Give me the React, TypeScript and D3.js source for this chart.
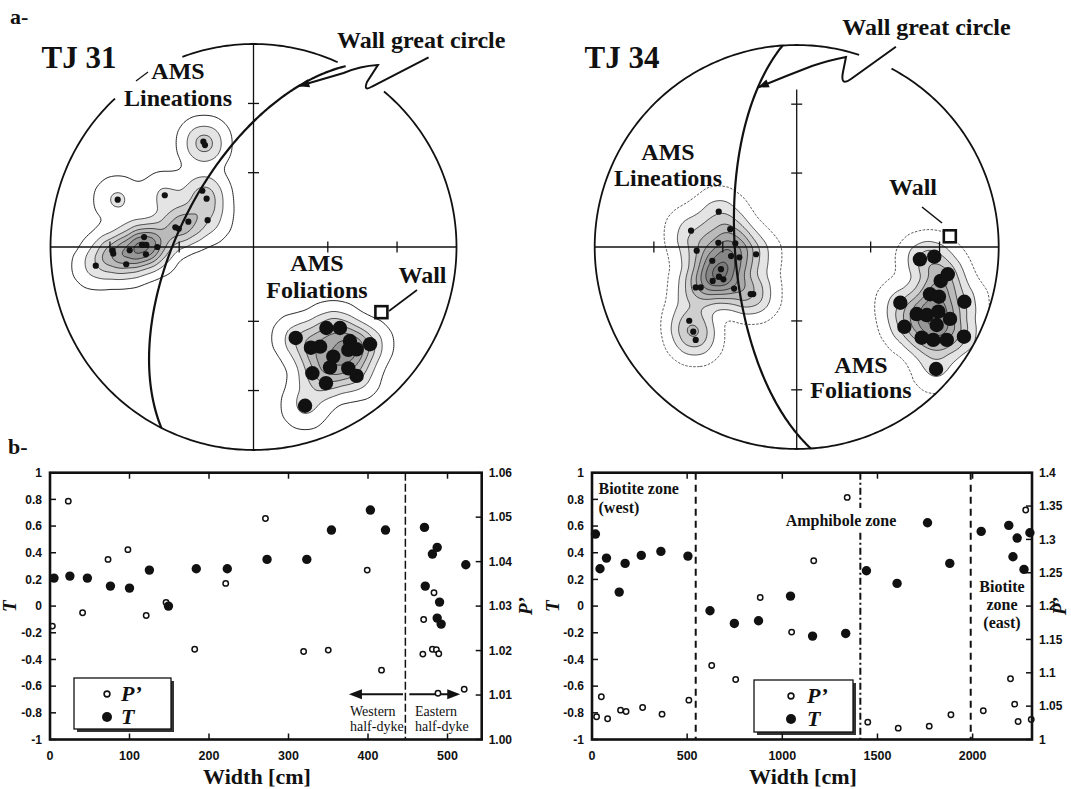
import React, { useMemo } from "react";
import * as d3 from "d3";

const SERIF = "'Liberation Serif','Times New Roman',Times,serif";
const SANS = "'Liberation Sans',Arial,Helvetica,sans-serif";

// ================= Panel b : TJ 31 profile =================
const tj31TWidth = [5, 25, 47, 76, 100, 125, 149, 184, 223, 273, 323, 354, 403, 422, 471, 481, 487, 472, 490, 487, 492, 523];
const tj31T = [0.21, 0.225, 0.21, 0.15, 0.135, 0.27, 0.0, 0.28, 0.28, 0.35, 0.35, 0.57, 0.72, 0.57, 0.59, 0.39, 0.44, 0.15, 0.03, -0.09, -0.135, 0.31];
const tj31PWidth = [3, 23, 41, 73, 98, 121, 146, 182, 221, 271, 319, 350, 399, 417, 470, 483, 469, 481, 486, 489, 488, 521];
const tj31P = [1.0255, 1.0536, 1.0285, 1.0405, 1.0427, 1.0279, 1.0308, 1.0203, 1.0351, 1.0497, 1.0198, 1.0201, 1.0381, 1.0156, 1.027, 1.033, 1.0192, 1.0203, 1.0202, 1.0193, 1.0104, 1.0113];
const tj31XTicks = [0, 100, 200, 300, 400, 500];
const tj31PTicks = [1.0, 1.01, 1.02, 1.03, 1.04, 1.05, 1.06];
const tj31PTickLabels = ["1.00", "1.01", "1.02", "1.03", "1.04", "1.05", "1.06"];
const tj31Zones = [447];

// ================= Panel b : TJ 34 profile =================
const tj34TWidth = [18, 42, 76, 143, 174, 259, 362, 504, 620, 748, 875, 1043, 1159, 1333, 1442, 1603, 1763, 1880, 2045, 2190, 2234, 2212, 2270, 2301];
const tj34T = [0.54, 0.28, 0.36, 0.105, 0.32, 0.38, 0.41, 0.375, -0.035, -0.13, -0.11, 0.075, -0.225, -0.205, 0.265, 0.17, 0.625, 0.32, 0.56, 0.605, 0.51, 0.37, 0.275, 0.55];
const tj34PWidth = [24, 49, 82, 150, 179, 266, 368, 509, 629, 755, 884, 1049, 1165, 1341, 1449, 1609, 1772, 1886, 2056, 2199, 2221, 2239, 2279, 2308];
const tj34P = [1.034, 1.064, 1.031, 1.044, 1.042, 1.048, 1.038, 1.059, 1.111, 1.09, 1.213, 1.161, 1.268, 1.363, 1.026, 1.017, 1.02, 1.037, 1.043, 1.091, 1.053, 1.027, 1.344, 1.03];
const tj34XTicks = [0, 500, 1000, 1500, 2000];
const tj34PTicks = [1, 1.05, 1.1, 1.15, 1.2, 1.25, 1.3, 1.35, 1.4];
const tj34PTickLabels = ["1", "1.05", "1.1", "1.15", "1.2", "1.25", "1.3", "1.35", "1.4"];
const tj34Zones = [545, 1410, 1990];

const tTicks = [-1, -0.8, -0.6, -0.4, -0.2, 0, 0.2, 0.4, 0.6, 0.8, 1];
const tTickLabels = ["-1", "-0.8", "-0.6", "-0.4", "-0.2", "0", "0.2", "0.4", "0.6", "0.8", "1"];

// ================= Panel a : stereonets (equal-area, normalised east / north) =================
const tj31LinE = [-0.247, -0.239, -0.669, -0.437, -0.252, -0.231, -0.226, -0.321, -0.385, -0.368, -0.539, -0.549, -0.528, -0.474, -0.61, -0.694, -0.691, -0.53, -0.627, -0.777];
const tj31LinN = [0.519, 0.502, 0.233, 0.255, 0.277, 0.238, 0.132, 0.125, 0.097, 0.09, 0.049, 0.01, 0.01, 0.0, -0.016, -0.018, -0.033, -0.036, -0.085, -0.092];
const tj31FolE = [0.208, 0.359, 0.426, 0.475, 0.574, 0.283, 0.328, 0.467, 0.508, 0.393, 0.377, 0.29, 0.467, 0.508, 0.357, 0.254];
const tj31FolN = [-0.448, -0.399, -0.399, -0.463, -0.479, -0.496, -0.491, -0.507, -0.504, -0.54, -0.593, -0.622, -0.598, -0.635, -0.671, -0.782];
const tj31Wall = { strike: 207, dip: 60 };

const tj34LinE = [-0.386, -0.523, -0.329, -0.388, -0.304, -0.495, -0.325, -0.284, -0.201, -0.418, -0.375, -0.385, -0.363, -0.416, -0.5, -0.475, -0.31, -0.228, -0.215, -0.532, -0.512, -0.5];
const tj34LinN = [0.175, 0.081, 0.088, 0.021, 0.018, -0.018, -0.045, -0.051, -0.036, -0.068, -0.11, -0.147, -0.16, -0.168, -0.2, -0.2, -0.206, -0.233, -0.233, -0.365, -0.419, -0.46];
const tj34FolE = [0.61, 0.681, 0.748, 0.713, 0.66, 0.704, 0.513, 0.83, 0.594, 0.644, 0.701, 0.759, 0.533, 0.693, 0.619, 0.676, 0.743, 0.828, 0.69];
const tj34FolN = [-0.061, -0.048, -0.135, -0.168, -0.234, -0.246, -0.276, -0.271, -0.332, -0.337, -0.32, -0.356, -0.395, -0.386, -0.449, -0.46, -0.46, -0.444, -0.604];
const tj34Wall = { strike: 176, dip: 65 };

const netTickDips = [30, 60];
const contourLevels = [0.2, 0.9, 1.7, 2.5, 3.3, 4.1, 4.9, 5.7, 6.5, 7.3, 8.1, 8.9, 9.7, 10.5, 11.3];

const RAD = Math.PI / 180;

// equal-area lower hemisphere projection of a line (trend, plunge in degrees)
function projLine(trend: number, plunge: number): [number, number] {
  const r = Math.SQRT2 * Math.sin(((90 - plunge) / 2) * RAD);
  return [r * Math.sin(trend * RAD), r * Math.cos(trend * RAD)];
}

function greatCircle(strike: number, dip: number, a0 = 0, a1 = 180): [number, number][] {
  const dd = strike + 90;
  const s = [Math.sin(strike * RAD), Math.cos(strike * RAD), 0];
  const d = [Math.sin(dd * RAD) * Math.cos(dip * RAD), Math.cos(dd * RAD) * Math.cos(dip * RAD), Math.sin(dip * RAD)];
  const out: [number, number][] = [];
  for (let a = a0; a <= a1 + 1e-9; a += 1) {
    const ca = Math.cos(a * RAD), sa = Math.sin(a * RAD);
    const v = [ca * s[0] + sa * d[0], ca * s[1] + sa * d[1], ca * s[2] + sa * d[2]];
    const plunge = Math.asin(Math.max(-1, Math.min(1, v[2]))) / RAD;
    const trend = Math.atan2(v[0], v[1]) / RAD;
    out.push(projLine(trend, plunge));
  }
  return out;
}

function buildContours(pts: [number, number][], bw: number, size: number) {
  const dens: any = d3
    .contourDensity<[number, number]>()
    .x((d) => d[0])
    .y((d) => d[1])
    .size([size, size])
    .cellSize(2)
    .bandwidth(bw);
  let peak = 1 / (2 * Math.PI * bw * bw);
  try {
    if (typeof dens.contours === "function") {
      const c = dens.contours([[size / 2, size / 2]]);
      if (c && isFinite(c.max) && c.max > 0) peak = c.max;
    }
  } catch (e) {
    /* fallback */
  }
  return dens.thresholds(contourLevels.map((m) => m * peak))(pts);
}

const grayScale = d3.scaleLinear<string>().domain([1, 3, 6, 10]).range(["#e4e4e4", "#bababa", "#868686", "#555555"]).clamp(true);

function arrowHead(tx: number, ty: number, fx: number, fy: number, len = 11, w = 4.2) {
  const ang = Math.atan2(ty - fy, tx - fx);
  const bx = tx - len * Math.cos(ang), by = ty - len * Math.sin(ang);
  const px = -Math.sin(ang) * w, py = Math.cos(ang) * w;
  return `${tx},${ty} ${bx + px},${by + py} ${bx - px},${by - py}`;
}

type NetProps = {
  id: string;
  cx: number;
  cy: number;
  R: number;
  linE: number[];
  linN: number[];
  folE: number[];
  folN: number[];
  wall: { strike: number; dip: number };
  gaps: [number, number][];
  vAxisTop: number;
  dashedOuter: boolean;
  linBw: number;
  folBw: number;
  arrowA: number;
  leader: string;
  leaderCtrl: [number, number];
  wallLeader: [number, number, number, number];
  children?: React.ReactNode;
};

function Stereonet(p: NetProps) {
  const sx = d3.scaleLinear().domain([-1, 1]).range([p.cx - p.R, p.cx + p.R]);
  const sy = d3.scaleLinear().domain([-1, 1]).range([p.cy + p.R, p.cy - p.R]);
  const ox = p.cx - p.R, oy = p.cy - p.R, size = 2 * p.R;
  const gp = d3.geoPath();

  const linPts = p.linE.map((e, i) => [sx(e), sy(p.linN[i])] as [number, number]);
  const folPts = p.folE.map((e, i) => [sx(e), sy(p.folN[i])] as [number, number]);

  const linC = useMemo(() => buildContours(linPts.map(([x, y]) => [x - ox, y - oy] as [number, number]), p.linBw, size), [p.id]);
  const folC = useMemo(() => buildContours(folPts.map(([x, y]) => [x - ox, y - oy] as [number, number]), p.folBw, size), [p.id]);

  // primitive circle with gaps
  const segs: [number, number][] = [];
  const sorted = [...p.gaps].sort((a, b) => a[0] - b[0]);
  let start = sorted.length ? sorted[sorted.length - 1][1] - 360 : 0;
  sorted.forEach((g) => {
    segs.push([start, g[0]]);
    start = g[1];
  });
  if (!sorted.length) segs.push([0, 360]);
  const primLine = d3
    .line<number>()
    .x((az) => sx(Math.sin(az * RAD)))
    .y((az) => sy(Math.cos(az * RAD)));

  const gc = greatCircle(p.wall.strike, p.wall.dip);
  const gcLine = d3
    .line<[number, number]>()
    .x((d) => sx(d[0]))
    .y((d) => sy(d[1]))
    .curve(d3.curveBasis);
  const pole = projLine(p.wall.strike + 90 + 180, 90 - p.wall.dip);
  const tip = greatCircle(p.wall.strike, p.wall.dip, p.arrowA, p.arrowA)[0];
  const tipX = sx(tip[0]), tipY = sy(tip[1]);

  const tickR = netTickDips.map((dp) => Math.SQRT2 * Math.sin((dp / 2) * RAD));
  const tickVals = [...tickR, ...tickR.map((v) => -v)];
  const tl = 5.5;

  const renderContours = (cs: any[], dashed: boolean) =>
    cs.map((c, i) =>
      c.coordinates.length ? (
        <path
          key={i}
          d={gp(c) || ""}
          fill={i === 0 ? "#fff" : grayScale(i)}
          stroke={i === 0 && dashed ? "#444" : "#111"}
          strokeWidth={i === 0 ? 0.9 : 0.7}
          strokeDasharray={i === 0 && dashed ? "2.5,1.5" : undefined}
        />
      ) : null
    );

  return (
    <g>
      <defs>
        <clipPath id={`clip-${p.id}`}>
          <circle cx={p.cx} cy={p.cy} r={p.R} />
        </clipPath>
      </defs>
      <g clipPath={`url(#clip-${p.id})`}>
        <g transform={`translate(${ox},${oy})`}>
          {renderContours(linC, p.dashedOuter)}
          {renderContours(folC, p.dashedOuter)}
        </g>
      </g>
      {segs.map((s, i) => (
        <path key={i} d={primLine(d3.range(s[0], s[1] + 0.001, 1)) || ""} fill="none" stroke="#111" strokeWidth={1.8} />
      ))}
      {/* axes */}
      <line x1={sx(-1)} x2={sx(1)} y1={sy(0)} y2={sy(0)} stroke="#111" strokeWidth={1.3} />
      <line x1={sx(0)} x2={sx(0)} y1={sy(p.vAxisTop)} y2={sy(-1)} stroke="#111" strokeWidth={1.3} />
      {tickVals.map((v, i) => (
        <g key={i}>
          <line x1={sx(v)} x2={sx(v)} y1={sy(0) - tl} y2={sy(0) + tl} stroke="#111" strokeWidth={1.3} />
          <line x1={sx(0) - tl} x2={sx(0) + tl} y1={sy(v)} y2={sy(v)} stroke="#111" strokeWidth={1.3} />
        </g>
      ))}
      {/* wall great circle */}
      <path d={gcLine(gc) || ""} fill="none" stroke="#111" strokeWidth={2.2} />
      {/* data */}
      {linPts.map(([x, y], i) => (
        <circle key={"l" + i} cx={x} cy={y} r={3.1} fill="#111" />
      ))}
      {folPts.map(([x, y], i) => (
        <circle key={"f" + i} cx={x} cy={y} r={7.2} fill="#111" />
      ))}
      {/* wall pole */}
      <line x1={p.wallLeader[0]} y1={p.wallLeader[1]} x2={p.wallLeader[2]} y2={p.wallLeader[3]} stroke="#111" strokeWidth={1.6} />
      <rect x={sx(pole[0]) - 6} y={sy(pole[1]) - 6} width={12} height={12} fill="#fff" stroke="#111" strokeWidth={2.6} />
      {/* leader arrow to great circle */}
      <path d={`${p.leader} Q${p.leaderCtrl[0]},${p.leaderCtrl[1]} ${tipX},${tipY}`} fill="none" stroke="#111" strokeWidth={2} />
      <polygon points={arrowHead(tipX, tipY, p.leaderCtrl[0], p.leaderCtrl[1])} fill="#111" />
      {p.children}
    </g>
  );
}

type ProfileProps = {
  x0: number;
  x1: number;
  y0: number;
  y1: number;
  xMax: number;
  xTicks: number[];
  pDomain: [number, number];
  pTicks: number[];
  pLabels: string[];
  tX: number[];
  tV: number[];
  pX: number[];
  pV: number[];
  zones: number[];
  zoneDash: string[];
  zoneW: number;
  pTitleX: number;
  tTitleX: number;
  widthX: number;
  legend: { x: number; y: number; w: number; h: number; cOff: number; tOff: number };
  children?: (x: d3.ScaleLinear<number, number>, yT: d3.ScaleLinear<number, number>) => React.ReactNode;
};

function Profile(p: ProfileProps) {
  const x = d3.scaleLinear().domain([0, p.xMax]).range([p.x0, p.x1]);
  const yT = d3.scaleLinear().domain([-1, 1]).range([p.y1, p.y0]);
  const yP = d3.scaleLinear().domain(p.pDomain).range([p.y1, p.y0]);
  const tl = 6;
  const L = p.legend;
  return (
    <g>
      {p.zones.map((z, i) => (
        <line key={i} x1={x(z)} x2={x(z)} y1={p.y0} y2={p.y1} stroke="#111" strokeWidth={p.zoneW} strokeDasharray={p.zoneDash[i]} />
      ))}
      {p.children ? p.children(x, yT) : null}
      {p.pX.map((v, i) => (
        <circle key={"p" + i} cx={x(v)} cy={yP(p.pV[i])} r={2.7} fill="#fff" stroke="#111" strokeWidth={1.5} />
      ))}
      {p.tX.map((v, i) => (
        <circle key={"t" + i} cx={x(v)} cy={yT(p.tV[i])} r={4.7} fill="#111" />
      ))}
      {/* legend */}
      <rect x={L.x + 3} y={L.y + 3} width={L.w} height={L.h} fill="#333" />
      <rect x={L.x} y={L.y} width={L.w} height={L.h} fill="#fff" stroke="#111" strokeWidth={1.3} />
      <circle cx={L.x + L.cOff} cy={L.y + 16} r={2.9} fill="#fff" stroke="#111" strokeWidth={1.6} />
      <circle cx={L.x + L.cOff} cy={L.y + 39} r={5} fill="#111" />
      <text x={L.x + L.tOff} y={L.y + 23} fontFamily={SERIF} fontWeight="bold" fontStyle="italic" fontSize={22} fill="#111">
        P’
      </text>
      <text x={L.x + L.tOff} y={L.y + 46} fontFamily={SERIF} fontWeight="bold" fontStyle="italic" fontSize={22} fill="#111">
        T
      </text>
      {/* frame */}
      <rect x={p.x0} y={p.y0} width={p.x1 - p.x0} height={p.y1 - p.y0} fill="none" stroke="#111" strokeWidth={2.6} />
      {p.xTicks.map((v, i) => (
        <g key={"xt" + i}>
          <line x1={x(v)} x2={x(v)} y1={p.y1} y2={p.y1 - tl} stroke="#111" strokeWidth={1.5} />
          <line x1={x(v)} x2={x(v)} y1={p.y0} y2={p.y0 + tl} stroke="#111" strokeWidth={1.5} />
          <text x={x(v)} y={p.y1 + 20} textAnchor="middle" fontFamily={SANS} fontWeight="bold" fontSize={12.5} fill="#111">
            {v}
          </text>
        </g>
      ))}
      {tTicks.map((v, i) => (
        <g key={"tt" + i}>
          <line x1={p.x0} x2={p.x0 + tl} y1={yT(v)} y2={yT(v)} stroke="#111" strokeWidth={1.5} />
          <text x={p.x0 - 8} y={yT(v) + 4.3} textAnchor="end" fontFamily={SANS} fontWeight="bold" fontSize={12} fill="#111">
            {tTickLabels[i]}
          </text>
        </g>
      ))}
      {p.pTicks.map((v, i) => (
        <g key={"pt" + i}>
          <line x1={p.x1} x2={p.x1 - tl} y1={yP(v)} y2={yP(v)} stroke="#111" strokeWidth={1.5} />
          <text x={p.x1 + 7} y={yP(v) + 4.3} textAnchor="start" fontFamily={SANS} fontWeight="bold" fontSize={12} fill="#111">
            {p.pLabels[i]}
          </text>
        </g>
      ))}
      <text x={p.widthX} y={784} textAnchor="middle" fontFamily={SERIF} fontWeight="bold" fontSize={22} fill="#111">
        Width [cm]
      </text>
      <text
        transform={`translate(${p.tTitleX},${yT(0)}) rotate(-90)`}
        textAnchor="middle"
        fontFamily={SERIF}
        fontWeight="bold"
        fontStyle="italic"
        fontSize={19}
        fill="#111"
      >
        T
      </text>
      <text
        transform={`translate(${p.pTitleX},${(p.y0 + p.y1) / 2}) rotate(-90)`}
        textAnchor="middle"
        fontFamily={SERIF}
        fontWeight="bold"
        fontStyle="italic"
        fontSize={19}
        fill="#111"
      >
        P’
      </text>
    </g>
  );
}

const labelStyle = { fontFamily: SERIF, fontWeight: "bold" as const, fill: "#111" };

export default function App() {
  return (
    <svg width={1071} height={789} viewBox="0 0 1071 789" style={{ position: "absolute", left: 0, top: 0, background: "#fff" }}>
      <rect x={0} y={0} width={1071} height={789} fill="#fff" />
      <text x={10} y={24} {...labelStyle} fontSize={22}>
        a-
      </text>
      <text x={8} y={454} {...labelStyle} fontSize={22}>
        b-
      </text>

      {/* ---------- TJ 31 stereonet ---------- */}
      <Stereonet
        id="tj31"
        cx={253.5}
        cy={247}
        R={203}
        linE={tj31LinE}
        linN={tj31LinN}
        folE={tj31FolE}
        folN={tj31FolN}
        wall={tj31Wall}
        gaps={[
          [317, 339.5],
          [25, 40],
        ]}
        vAxisTop={1}
        dashedOuter={false}
        linBw={12}
        folBw={12}
        arrowA={158}
        leader="M428.6,57.3 L372,86.5 Q363,92 367,82 L377.9,65 Q360,66 343.6,73"
        leaderCtrl={[320, 80]}
        wallLeader={[389, 311, 417, 290]}
      >
        <text x={41.5} y={68} {...labelStyle} fontSize={31}>
          TJ 31
        </text>
        <text x={337} y={48} {...labelStyle} fontSize={24}>
          Wall great circle
        </text>
        <line x1={136} y1={81} x2={148} y2={72} stroke="#111" strokeWidth={1.2} />
        <text x={178} y={79} textAnchor="middle" {...labelStyle} fontSize={24}>
          AMS
        </text>
        <text x={178} y={106} textAnchor="middle" {...labelStyle} fontSize={24}>
          Lineations
        </text>
        <text x={317} y={271} textAnchor="middle" {...labelStyle} fontSize={24}>
          AMS
        </text>
        <text x={317} y={298} textAnchor="middle" {...labelStyle} fontSize={24}>
          Foliations
        </text>
        <text x={398.5} y={283} {...labelStyle} fontSize={24}>
          Wall
        </text>
      </Stereonet>

      {/* ---------- TJ 34 stereonet ---------- */}
      <Stereonet
        id="tj34"
        cx={796.7}
        cy={247}
        R={202}
        linE={tj34LinE}
        linN={tj34LinN}
        folE={tj34FolE}
        folN={tj34FolN}
        wall={tj34Wall}
        gaps={[[18, 28]]}
        vAxisTop={0.78}
        dashedOuter={true}
        linBw={13}
        folBw={12.5}
        arrowA={158}
        leader="M895.9,46.7 L851,79 Q840,87 843,72 L846,57 Q830,60 812,66"
        leaderCtrl={[786, 76]}
        wallLeader={[922, 207, 942, 223]}
      >
        <text x={584.6} y={68} {...labelStyle} fontSize={31}>
          TJ 34
        </text>
        <text x={842.3} y={35} {...labelStyle} fontSize={24}>
          Wall great circle
        </text>
        <text x={668} y={160} textAnchor="middle" {...labelStyle} fontSize={24}>
          AMS
        </text>
        <text x={668} y={186} textAnchor="middle" {...labelStyle} fontSize={24}>
          Lineations
        </text>
        <text x={889} y={195} {...labelStyle} fontSize={24}>
          Wall
        </text>
        <text x={861} y={373} textAnchor="middle" {...labelStyle} fontSize={24}>
          AMS
        </text>
        <text x={861} y={398} textAnchor="middle" {...labelStyle} fontSize={24}>
          Foliations
        </text>
      </Stereonet>

      {/* ---------- TJ 31 profile ---------- */}
      <Profile
        x0={50}
        x1={481.7}
        y0={472.7}
        y1={739.5}
        xMax={543}
        xTicks={tj31XTicks}
        pDomain={[1.0, 1.06]}
        pTicks={tj31PTicks}
        pLabels={tj31PTickLabels}
        tX={tj31TWidth}
        tV={tj31T}
        pX={tj31PWidth}
        pV={tj31P}
        zones={tj31Zones}
        zoneDash={["8,3"]}
        zoneW={1.5}
        pTitleX={532}
        tTitleX={16}
        widthX={257}
        legend={{ x: 74, y: 678, w: 97, h: 51, cOff: 33, tOff: 47 }}
      >
        {(x, yT) => (
          <g>
            <line x1={x(444)} x2={x(381)} y1={yT(-0.66)} y2={yT(-0.66)} stroke="#111" strokeWidth={2} />
            <polygon points={arrowHead(x(376), yT(-0.66), x(444), yT(-0.66), 13, 5)} fill="#111" />
            <line x1={x(452)} x2={x(511)} y1={yT(-0.66)} y2={yT(-0.66)} stroke="#111" strokeWidth={2} />
            <polygon points={arrowHead(x(516), yT(-0.66), x(452), yT(-0.66), 13, 5)} fill="#111" />
            <text x={350} y={716} fontFamily={SERIF} fontSize={14} fill="#111">
              Western
            </text>
            <text x={350} y={731} fontFamily={SERIF} fontSize={14} fill="#111">
              half-dyke
            </text>
            <text x={415} y={716} fontFamily={SERIF} fontSize={14} fill="#111">
              Eastern
            </text>
            <text x={415} y={731} fontFamily={SERIF} fontSize={14} fill="#111">
              half-dyke
            </text>
          </g>
        )}
      </Profile>

      {/* ---------- TJ 34 profile ---------- */}
      <Profile
        x0={592}
        x1={1032}
        y0={472.7}
        y1={739.5}
        xMax={2312}
        xTicks={tj34XTicks}
        pDomain={[1.0, 1.4]}
        pTicks={tj34PTicks}
        pLabels={tj34PTickLabels}
        tX={tj34TWidth}
        tV={tj34T}
        pX={tj34PWidth}
        pV={tj34P}
        zones={tj34Zones}
        zoneDash={["7,5", "7,3,2,3", "7,5"]}
        zoneW={2}
        pTitleX={1066}
        tTitleX={559}
        widthX={803}
        legend={{ x: 754, y: 680, w: 99, h: 52, cOff: 37, tOff: 53 }}
      >
        {() => (
          <g>
            <rect x={783} y={508} width={117} height={22} fill="#fff" />
            <text x={598.5} y={494} fontFamily={SERIF} fontWeight="bold" fontSize={16} fill="#111">
              Biotite zone
            </text>
            <text x={598.5} y={513} fontFamily={SERIF} fontWeight="bold" fontSize={16} fill="#111">
              (west)
            </text>
            <text x={841} y={526} textAnchor="middle" fontFamily={SERIF} fontWeight="bold" fontSize={16} fill="#111">
              Amphibole zone
            </text>
            <text x={1002} y={592} textAnchor="middle" fontFamily={SERIF} fontWeight="bold" fontSize={16} fill="#111">
              Biotite
            </text>
            <text x={1002} y={610} textAnchor="middle" fontFamily={SERIF} fontWeight="bold" fontSize={16} fill="#111">
              zone
            </text>
            <text x={1002} y={628} textAnchor="middle" fontFamily={SERIF} fontWeight="bold" fontSize={16} fill="#111">
              (east)
            </text>
          </g>
        )}
      </Profile>
    </svg>
  );
}
